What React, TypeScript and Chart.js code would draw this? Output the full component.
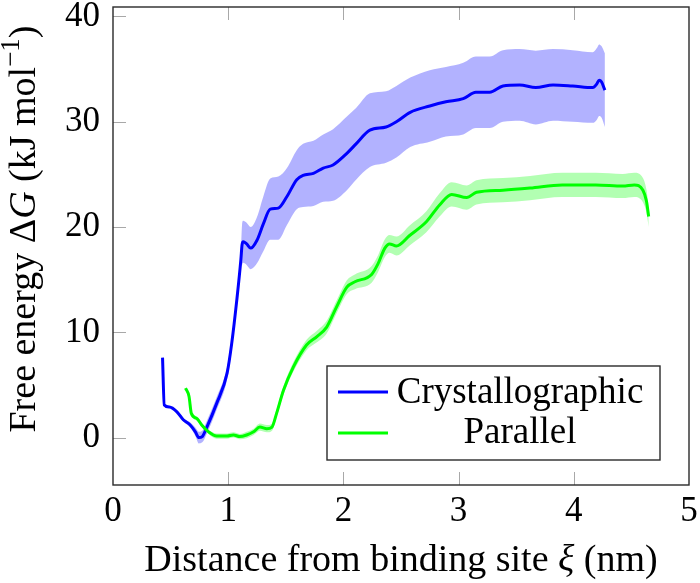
import React, { useEffect, useRef } from "react";
import { Chart, registerables } from "chart.js";

Chart.register(...registerables);

// Crystallographic pathway: distance (nm), free energy (kJ/mol), uncertainty
const crystX = [0.43, 0.445, 0.49, 0.555, 0.61, 0.67, 0.715, 0.745, 0.775, 0.815, 0.9, 0.99, 1.03, 1.075, 1.11, 1.12, 1.13, 1.16, 1.195, 1.25, 1.305, 1.365, 1.435, 1.51, 1.595, 1.65, 1.74, 1.825, 1.91, 2.03, 2.11, 2.23, 2.37, 2.46, 2.58, 2.75, 2.89, 3.04, 3.15, 3.27, 3.385, 3.53, 3.67, 3.82, 3.99, 4.165, 4.2, 4.22, 4.24, 4.27];
const crystY = [7.6, 3.1, 2.9, 2.45, 1.7, 1.2, 0.55, 0.0, 0.1, 1.0, 3.25, 6.1, 8.9, 13.1, 16.9, 18.3, 18.6, 18.4, 18.0, 18.75, 20.3, 21.7, 21.8, 22.9, 24.5, 24.9, 25.1, 25.6, 25.9, 27.0, 27.9, 29.2, 29.5, 30.0, 30.9, 31.5, 31.9, 32.2, 32.8, 32.8, 33.4, 33.5, 33.25, 33.5, 33.4, 33.25, 33.6, 33.95, 33.8, 33.0];
const crystErr = [0.05, 0.05, 0.05, 0.1, 0.15, 0.25, 0.4, 0.55, 0.55, 0.6, 0.6, 0.6, 0.6, 0.6, 0.7, 1.9, 2.0, 2.0, 2.0, 2.2, 2.6, 2.9, 3.0, 2.7, 2.8, 3.0, 3.1, 3.2, 3.4, 3.5, 3.4, 3.5, 3.4, 3.4, 3.3, 3.4, 3.3, 3.4, 3.4, 3.4, 3.4, 3.4, 3.5, 3.4, 3.4, 3.35, 3.4, 3.4, 3.4, 3.5];

// Parallel pathway
const parX = [0.63, 0.66, 0.68, 0.73, 0.77, 0.83, 0.9, 0.99, 1.045, 1.1, 1.16, 1.22, 1.275, 1.335, 1.38, 1.42, 1.48, 1.565, 1.68, 1.77, 1.855, 1.94, 2.03, 2.1, 2.245, 2.3, 2.36, 2.4, 2.46, 2.575, 2.72, 2.835, 2.94, 3.07, 3.155, 3.385, 3.62, 3.9, 4.19, 4.425, 4.525, 4.6, 4.63, 4.65];
const parY = [4.7, 3.9, 2.3, 1.8, 1.2, 0.55, 0.15, 0.15, 0.25, 0.1, 0.25, 0.55, 1.0, 0.85, 1.0, 2.3, 4.5, 6.7, 8.8, 9.6, 10.5, 12.4, 14.3, 14.8, 15.5, 16.5, 18.0, 18.4, 18.2, 19.2, 20.5, 22.1, 23.1, 22.8, 23.3, 23.5, 23.7, 24.0, 24.0, 23.9, 24.0, 23.5, 22.5, 21.0];
const parErr = [0.05, 0.1, 0.15, 0.2, 0.2, 0.2, 0.25, 0.25, 0.25, 0.25, 0.3, 0.3, 0.35, 0.35, 0.35, 0.35, 0.4, 0.45, 0.5, 0.55, 0.6, 0.6, 0.65, 0.7, 0.8, 0.8, 0.85, 0.85, 0.9, 0.95, 1.0, 1.1, 1.15, 1.15, 1.15, 1.15, 1.15, 1.15, 1.15, 1.15, 1.15, 1.15, 1.1, 1.0];

const xTicks = [0, 1, 2, 3, 4, 5];
const yTicks = [0, 10, 20, 30, 40];
const seriesNames = ["Crystallographic", "Parallel"];

const FONT = "'Liberation Serif', 'Times New Roman', serif";
const BLUE = "#0000ff";
const GREEN = "#00ff00";

function pts(xs: number[], ys: number[], errs: number[] | null, sign: number) {
  return xs.map((x, i) => ({ x, y: ys[i] + (errs ? sign * errs[i] : 0) }));
}

type Seg = { t: string; italic?: boolean; sup?: boolean };

function drawRich(ctx: CanvasRenderingContext2D, segs: Seg[], size: number, cx: number, baseline: number) {
  const fontFor = (s: Seg) => `${s.italic ? "italic " : ""}${s.sup ? Math.round(size * 0.7) : size}px ${FONT}`;
  let total = 0;
  for (const s of segs) {
    ctx.font = fontFor(s);
    total += ctx.measureText(s.t).width;
  }
  let x = cx - total / 2;
  ctx.textAlign = "left";
  ctx.textBaseline = "alphabetic";
  for (const s of segs) {
    ctx.font = fontFor(s);
    ctx.fillText(s.t, x, s.sup ? baseline - size * 0.42 : baseline);
    x += ctx.measureText(s.t).width;
  }
}

const decorPlugin = {
  id: "decor",
  afterDraw(chart: any) {
    const ctx: CanvasRenderingContext2D = chart.ctx;
    const { left, right, top, bottom } = chart.chartArea;
    const xs = chart.scales.x;
    const ys = chart.scales.y;
    ctx.save();
    // inward tick marks
    ctx.strokeStyle = "#a8a8a8";
    ctx.lineWidth = 1;
    const tl = 13;
    for (const v of xTicks) {
      const px = Math.round(xs.getPixelForValue(v)) + 0.5;
      if (px <= left + 1 || px >= right - 1) continue;
      ctx.beginPath();
      ctx.moveTo(px, bottom);
      ctx.lineTo(px, bottom - tl);
      ctx.moveTo(px, top);
      ctx.lineTo(px, top + tl);
      ctx.stroke();
    }
    for (const v of yTicks) {
      const py = Math.round(ys.getPixelForValue(v)) + 0.5;
      ctx.beginPath();
      ctx.moveTo(left, py);
      ctx.lineTo(left + tl, py);
      ctx.stroke();
    }
    // frame
    ctx.strokeStyle = "#2a2a2a";
    ctx.lineWidth = 1.4;
    ctx.strokeRect(left, top, right - left, bottom - top);

    // legend
    const lx0 = 327, ly0 = 366, lx1 = 660, ly1 = 460;
    ctx.fillStyle = "#ffffff";
    ctx.fillRect(lx0, ly0, lx1 - lx0, ly1 - ly0);
    ctx.strokeStyle = "#2a2a2a";
    ctx.lineWidth = 1.4;
    ctx.strokeRect(lx0, ly0, lx1 - lx0, ly1 - ly0);
    const rows = [
      { name: seriesNames[0], color: BLUE, y: 392, base: 403 },
      { name: seriesNames[1], color: GREEN, y: 433, base: 443 },
    ];
    for (const r of rows) {
      ctx.strokeStyle = r.color;
      ctx.lineWidth = 3;
      ctx.beginPath();
      ctx.moveTo(338, r.y);
      ctx.lineTo(388, r.y);
      ctx.stroke();
      ctx.fillStyle = "#000";
      ctx.font = `37px ${FONT}`;
      ctx.textAlign = "center";
      ctx.textBaseline = "alphabetic";
      ctx.fillText(r.name, 520, r.base);
    }

    // axis titles
    ctx.fillStyle = "#000";
    drawRich(ctx, [{ t: "Distance from binding site " }, { t: "ξ", italic: true }, { t: " (nm)" }], 38, (left + right) / 2, 571);
    ctx.save();
    ctx.translate(35, 229);
    ctx.rotate(-Math.PI / 2);
    drawRich(ctx, [{ t: "Free energy Δ" }, { t: "G", italic: true }, { t: " (kJ mol" }, { t: "−1", sup: true }, { t: ")" }], 38, 0, 0);
    ctx.restore();
    ctx.restore();
  },
};

export default function App() {
  const ref = useRef<HTMLCanvasElement | null>(null);
  useEffect(() => {
    if (!ref.current) return;
    const line = (data: any[], color: string, order: number) => ({
      data, borderColor: color, borderWidth: 3, pointRadius: 0, fill: false,
      cubicInterpolationMode: "monotone", order,
    });
    const band = (data: any[], color: string, fill: any, order: number) => ({
      data, borderColor: "rgba(0,0,0,0)", borderWidth: 0, backgroundColor: color, pointRadius: 0, fill,
      cubicInterpolationMode: "monotone", order,
    });
    const chart = new Chart(ref.current, {
      type: "line",
      data: {
        datasets: [
          { label: seriesNames[0], ...line(pts(crystX, crystY, null, 0), BLUE, 1) },
          { label: seriesNames[1], ...line(pts(parX, parY, null, 0), GREEN, 0) },
          { label: "c+", ...band(pts(crystX, crystY, crystErr, 1), "rgba(0,0,255,0.3)", "+1", 3) },
          { label: "c-", ...band(pts(crystX, crystY, crystErr, -1), "rgba(0,0,255,0.3)", false, 3) },
          { label: "p+", ...band(pts(parX, parY, parErr, 1), "rgba(0,255,0,0.3)", "+1", 2) },
          { label: "p-", ...band(pts(parX, parY, parErr, -1), "rgba(0,255,0,0.3)", false, 2) },
        ] as any,
      },
      options: {
        animation: false,
        responsive: false,
        devicePixelRatio: 1,
        layout: { padding: { left: 0, right: 11, top: 7, bottom: 0 } },
        plugins: { legend: { display: false }, tooltip: { enabled: false } },
        scales: {
          x: {
            type: "linear",
            min: 0,
            max: 5,
            grid: { display: false, drawTicks: false },
            border: { display: false },
            afterBuildTicks: (s: any) => { s.ticks = xTicks.map((v) => ({ value: v })); },
            afterFit: (s: any) => { s.height = 98; s.paddingLeft = 0; s.paddingRight = 0; },
            ticks: { color: "#000", font: { family: FONT, size: 35 }, padding: 6, maxRotation: 0 },
          },
          y: {
            type: "linear",
            min: -4.5,
            max: 40.9,
            grid: { display: false, drawTicks: false },
            border: { display: false },
            afterBuildTicks: (s: any) => { s.ticks = yTicks.map((v) => ({ value: v })); },
            afterFit: (s: any) => { s.width = 113; s.paddingTop = 0; s.paddingBottom = 0; },
            ticks: { color: "#000", font: { family: FONT, size: 35 }, padding: 13 },
          },
        },
      } as any,
      plugins: [decorPlugin],
    });
    return () => chart.destroy();
  }, []);
  return (
    <div style={{ position: "fixed", left: 0, top: 0, width: 700, height: 583, background: "#fff" }}>
      <canvas ref={ref} width={700} height={583} style={{ width: 700, height: 583, display: "block" }} />
    </div>
  );
}
